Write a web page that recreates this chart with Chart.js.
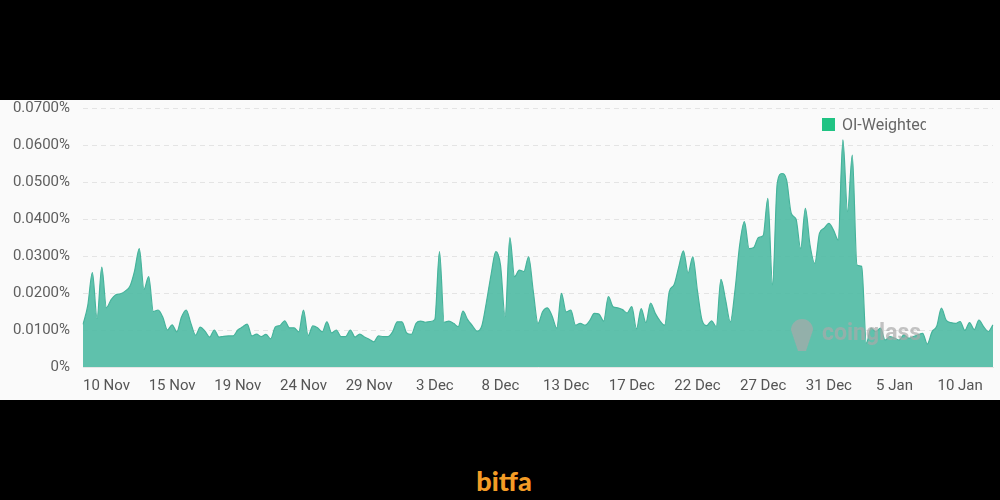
<!DOCTYPE html>
<html>
<head>
<meta charset="utf-8">
<script src="https://cdn.jsdelivr.net/npm/chart.js@4.4.1/dist/chart.umd.min.js"></script>
<style>
  html, body { margin: 0; padding: 0; background: #000; width: 1000px; height: 500px; overflow: hidden; }
  #panel { position: absolute; left: 0; top: 100px; width: 1000px; height: 300px; background: #fafafa; }
  #chart { position: absolute; left: 0; top: 0; }
  #legend { position: absolute; left: 822px; top: 116px; width: 104px; height: 20px; overflow: hidden; white-space: nowrap;
            font-family: Roboto, "Noto Sans", sans-serif; font-size: 16px; color: #666; line-height: 18px; }
  #legend .sw { display: inline-block; width: 13px; height: 13px; background: #20c383; vertical-align: -1px; margin-right: 7px; }
  #brand { position: absolute; left: 0; width: 1000px; top: 464px; text-align: center; font-family: Lato, "Open Sans", sans-serif;
           font-weight: 900; font-size: 27px; color: #f39c26; letter-spacing: 0px; padding-left: 4px; }
</style>
</head>
<body>
<div id="panel"><canvas id="chart" width="1000" height="300"></canvas></div>
<div id="legend"><span class="sw"></span>OI-Weighted Funding Rate</div>
<div id="brand">bitfa</div>
<script>
// series: OI-weighted funding rate (%), 8-hour intervals
const fundingRate = [
  0.0115, 0.0165, 0.0255, 0.0132, 0.0270, 0.0160, 0.0182, 0.0195, 0.0198, 0.0205,
  0.0218, 0.0260, 0.0320, 0.0210, 0.0244, 0.0150, 0.0154, 0.0135, 0.0100, 0.0114,
  0.0095, 0.0135, 0.0154, 0.0118, 0.0086, 0.0108, 0.0097, 0.0081, 0.0100, 0.0081,
  0.0083, 0.0084, 0.0084, 0.0100, 0.0108, 0.0116, 0.0084, 0.0089, 0.0082, 0.0088,
  0.0076, 0.0108, 0.0112, 0.0125, 0.0106, 0.0106, 0.0095, 0.0154, 0.0085, 0.0111,
  0.0106, 0.0095, 0.0122, 0.0092, 0.0100, 0.0082, 0.0082, 0.0100, 0.0081, 0.0089,
  0.0081, 0.0075, 0.0068, 0.0084, 0.0082, 0.0082, 0.0095, 0.0122, 0.0122, 0.0092,
  0.0088, 0.0118, 0.0124, 0.0121, 0.0123, 0.0128, 0.0312, 0.0121, 0.0124, 0.0118,
  0.0109, 0.0151, 0.0128, 0.0112, 0.0097, 0.0110, 0.0175, 0.0250, 0.0312, 0.0276,
  0.0136, 0.0350, 0.0244, 0.0262, 0.0258, 0.0298, 0.0204, 0.0118, 0.0150, 0.0160,
  0.0138, 0.0105, 0.0199, 0.0149, 0.0154, 0.0113, 0.0118, 0.0113, 0.0125, 0.0145,
  0.0143, 0.0124, 0.0190, 0.0163, 0.0160, 0.0155, 0.0146, 0.0163, 0.0103, 0.0158,
  0.0120, 0.0173, 0.0145, 0.0125, 0.0113, 0.0204, 0.0222, 0.0270, 0.0314, 0.0254,
  0.0298, 0.0205, 0.0125, 0.0112, 0.0125, 0.0109, 0.0237, 0.0181, 0.0122, 0.0208,
  0.0330, 0.0393, 0.0320, 0.0323, 0.0350, 0.0355, 0.0456, 0.0222, 0.0496, 0.0523,
  0.0505, 0.0415, 0.0400, 0.0320, 0.0429, 0.0329, 0.0280, 0.0361, 0.0375, 0.0388,
  0.0370, 0.0343, 0.0614, 0.0420, 0.0573, 0.0276, 0.0272, 0.0064, 0.0105, 0.0096,
  0.0105, 0.0073, 0.0082, 0.0078, 0.0073, 0.0087, 0.0078, 0.0082, 0.0087, 0.0091,
  0.0062, 0.0095, 0.0110, 0.0159, 0.0127, 0.0120, 0.0118, 0.0123, 0.0099, 0.0120,
  0.0101, 0.0127, 0.0109, 0.0096, 0.0114
];
// x-axis tick labels (shown every 14th 8-hour point, first at index 5)
const tickLabels = ['10 Nov','15 Nov','19 Nov','24 Nov','29 Nov','3 Dec','8 Dec','13 Dec','17 Dec','22 Dec','27 Dec','31 Dec','5 Jan','10 Jan'];
const firstTickIndex = 5;
const tickEvery = 14;
// y-axis ticks (%)
const yTicks = [0, 0.01, 0.02, 0.03, 0.04, 0.05, 0.06, 0.07];
const seriesName = 'OI-Weighted Funding Rate';

// categories: 8-hour timestamps starting 8 Nov 16:00
const startTime = Date.UTC(2023, 10, 8, 16, 0);
const categories = fundingRate.map((_, i) => new Date(startTime + i * 8 * 3600 * 1000).toISOString().slice(0, 16).replace('T', ' '));

const watermark = {
  id: 'watermark',
  afterDatasetsDraw(chart) {
    const ctx = chart.ctx;
    ctx.save();
    ctx.fillStyle = 'rgba(170,170,170,0.7)';
    ctx.beginPath();
    ctx.arc(802, 230, 11, Math.PI, 0);
    ctx.lineTo(809, 242);
    ctx.lineTo(806, 251);
    ctx.lineTo(798, 251);
    ctx.lineTo(795, 242);
    ctx.closePath();
    ctx.fill();
    ctx.font = 'bold 23px Roboto, sans-serif';
    ctx.textBaseline = 'middle';
    ctx.textAlign = 'left';
    ctx.fillText('coinglass', 822, 234);
    ctx.restore();
  }
};

new Chart(document.getElementById('chart'), {
  type: 'line',
  data: {
    labels: categories,
    datasets: [{
      label: seriesName,
      data: fundingRate,
      fill: 'origin',
      backgroundColor: 'rgba(78,186,163,0.9)',
      borderColor: '#46b39b',
      borderWidth: 1.2,
      pointRadius: 0,
      tension: 0.4,
      cubicInterpolationMode: 'monotone'
    }]
  },
  options: {
    responsive: false,
    animation: false,
    layout: { padding: { top: 8, right: 7, left: 0, bottom: 0 } },
    plugins: { legend: { display: false }, tooltip: { enabled: false } },
    scales: {
      x: {
        type: 'category',
        offset: false,
        grid: { display: false, drawTicks: false },
        border: { display: true, color: '#e6e6e6' },
        afterFit(s) { s.height = 33; s.paddingLeft = 0; s.paddingRight = 0; },
        ticks: {
          autoSkip: false, maxRotation: 0, minRotation: 0, padding: 10,
          color: '#555', font: { family: 'Roboto', size: 15 },
          callback(v, i) {
            if (i >= firstTickIndex && (i - firstTickIndex) % tickEvery === 0) return tickLabels[(i - firstTickIndex) / tickEvery];
            return null;
          }
        }
      },
      y: {
        min: 0, max: 0.07,
        afterFit(s) { s.width = 83; s.paddingTop = 0; s.paddingBottom = 0; },
        afterBuildTicks(s) { s.ticks = yTicks.map(v => ({ value: v })); },
        grid: { color: '#e4e4e4', drawTicks: false, lineWidth: 1 },
        border: { display: false, dash: [5, 4] },
        ticks: {
          padding: 13, color: '#5e5e5e', font: { family: 'Roboto', size: 15 },
          callback(v) { return v === 0 ? '0%' : v.toFixed(4) + '%'; }
        }
      }
    }
  },
  plugins: [watermark]
});
</script>
</body>
</html>
